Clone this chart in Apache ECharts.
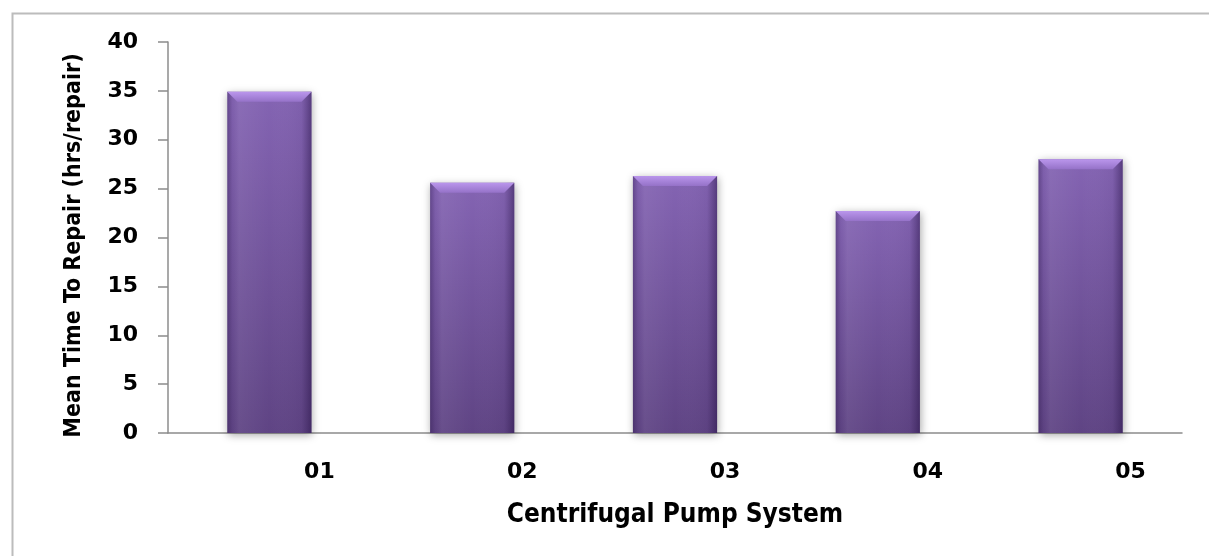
<!DOCTYPE html>
<html>
<head>
<meta charset="utf-8">
<script src="https://cdn.jsdelivr.net/npm/echarts@6/dist/echarts.min.js"></script>
<style>
  html, body { margin: 0; padding: 0; background: #ffffff; }
  #chart { width: 1209px; height: 556px; }
</style>
</head>
<body>
<div id="chart"></div>
<script>
// Mean time to repair for each centrifugal pump system
const pumpSystems = ['01', '02', '03', '04', '05'];
const mttrHours = [34.9, 25.6, 26.3, 22.7, 28.0];
const yTicks = { min: 0, max: 40, interval: 5 };

const chart = echarts.init(document.getElementById('chart'), null, { renderer: 'canvas' });

// Bevelled purple column, sized from the category band and the value scale
function renderColumn(params, api) {
  const cat = api.value(0);
  const val = api.value(1);
  const top = api.coord([cat, val]);
  const base = api.coord([cat, 0]);
  const band = api.size([1, 0])[0];
  const w = band * 0.415;
  const x = top[0] - w / 2;
  const y = top[1];
  const h = base[1] - top[1];
  const bev = 10;
  return {
    type: 'group',
    children: [
      {
        type: 'rect',
        shape: { x: x, y: y, width: w, height: h },
        style: {
          fill: new echarts.graphic.LinearGradient(0, 0, 0, 1, [
            { offset: 0, color: '#8464b3' },
            { offset: 1, color: '#5f4484' }
          ]),
          shadowBlur: 8,
          shadowColor: 'rgba(0,0,0,0.35)',
          shadowOffsetX: 1,
          shadowOffsetY: 2
        }
      },
      {
        type: 'rect',
        shape: { x: x, y: y, width: w, height: h },
        style: {
          fill: new echarts.graphic.LinearGradient(0, 0, 1, 0, [
            { offset: 0, color: 'rgba(40,20,70,0.35)' },
            { offset: 0.06, color: 'rgba(40,20,70,0.05)' },
            { offset: 0.14, color: 'rgba(255,255,255,0.06)' },
            { offset: 0.5, color: 'rgba(255,255,255,0)' },
            { offset: 0.88, color: 'rgba(40,20,70,0.05)' },
            { offset: 1, color: 'rgba(30,10,60,0.45)' }
          ])
        }
      },
      {
        type: 'polygon',
        shape: { points: [[x, y], [x + w, y], [x + w - bev, y + bev], [x + bev, y + bev]] },
        style: {
          fill: new echarts.graphic.LinearGradient(0, 0, 0, 1, [
            { offset: 0, color: '#ba96ec' },
            { offset: 1, color: '#9572c8' }
          ])
        }
      }
    ]
  };
}

chart.setOption({
  animation: false,
  backgroundColor: '#ffffff',
  graphic: [
    {
      type: 'rect',
      left: 10,
      top: 11,
      shape: { width: 1220, height: 570 },
      style: { fill: 'none', stroke: '#bcbcbc', lineWidth: 2 },
      silent: true
    }
  ],
  grid: { left: 168, right: 27, top: 42, bottom: 123, containLabel: false },
  xAxis: {
    type: 'category',
    data: pumpSystems,
    name: 'Centrifugal Pump System',
    nameLocation: 'middle',
    nameGap: 69,
    nameTextStyle: {
      fontFamily: '"DejaVu Sans Condensed", "DejaVu Sans"',
      fontWeight: 'bold',
      fontSize: 26,
      color: '#000000'
    },
    axisLine: { lineStyle: { color: '#8c8c8c', width: 1.5 } },
    axisTick: { show: false },
    axisLabel: {
      margin: 28,
      padding: [0, 0, 0, 100],
      fontFamily: '"DejaVu Sans"',
      fontWeight: 'bold',
      fontSize: 22,
      color: '#000000'
    }
  },
  yAxis: {
    type: 'value',
    min: yTicks.min,
    max: yTicks.max,
    interval: yTicks.interval,
    name: 'Mean Time To Repair (hrs/repair)',
    nameLocation: 'middle',
    nameGap: 82,
    nameTextStyle: {
      fontFamily: '"DejaVu Sans Condensed", "DejaVu Sans"',
      fontWeight: 'bold',
      fontSize: 23,
      color: '#000000',
      padding: [0, 16, 0, 0]
    },
    axisLine: { show: true, lineStyle: { color: '#8c8c8c', width: 1.5 } },
    axisTick: { show: true, inside: false, length: 10, lineStyle: { color: '#8c8c8c', width: 1.5 } },
    splitLine: { show: false },
    axisLabel: {
      margin: 30,
      fontFamily: '"DejaVu Sans"',
      fontWeight: 'bold',
      fontSize: 22,
      color: '#000000'
    }
  },
  series: [
    {
      type: 'custom',
      name: 'Mean Time To Repair',
      renderItem: renderColumn,
      encode: { x: 0, y: 1 },
      data: mttrHours.map((v, i) => [i, v])
    }
  ]
});
</script>
</body>
</html>
